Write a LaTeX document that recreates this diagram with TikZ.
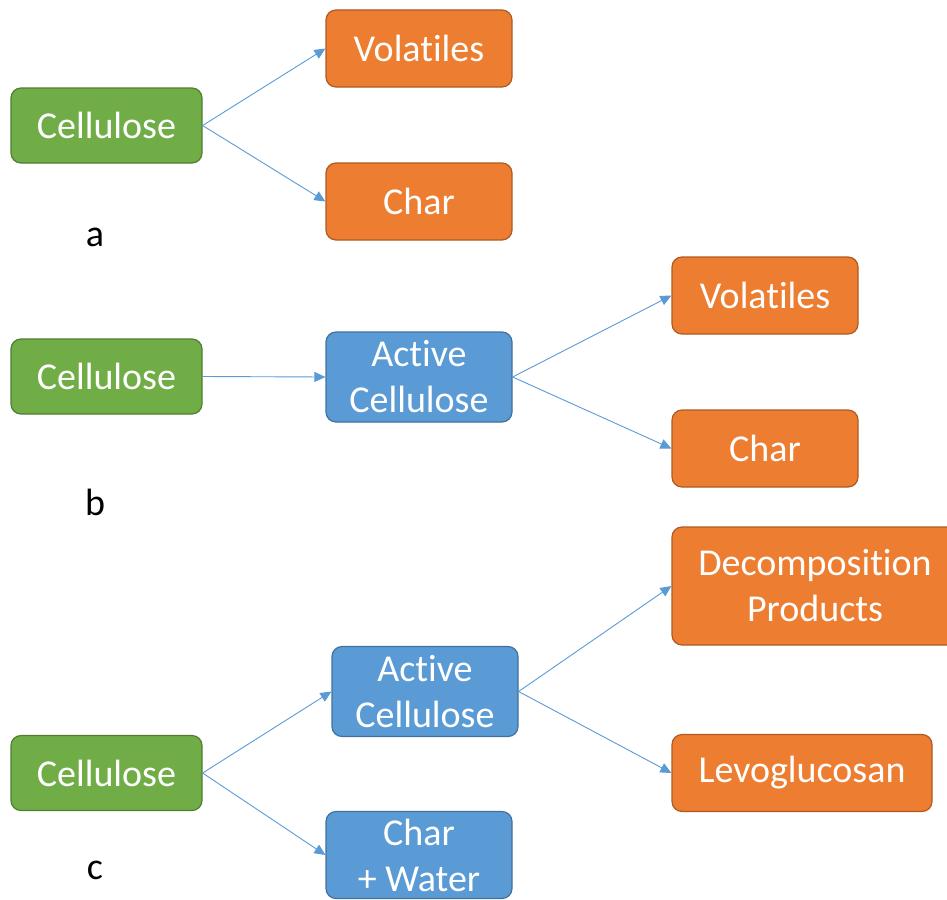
\documentclass[tikz,border=0pt]{standalone}
\usepackage{fontspec}
\setmainfont[Ligatures=NoCommon]{Carlito}
\usetikzlibrary{arrows.meta}
\definecolor{leafgreen}{HTML}{70AD47}
\definecolor{leafgreenline}{HTML}{507E32}
\definecolor{burntorange}{HTML}{ED7D31}
\definecolor{burntorangeline}{HTML}{AE5A21}
\definecolor{skyblue}{HTML}{5B9BD5}
\definecolor{skyblueline}{HTML}{41719C}
\begin{document}
\begin{tikzpicture}[x=1pt, y=-1pt,
  box/.style={rounded corners=10pt, line width=1.2pt, text=white,
    font=\fontsize{38}{46}\selectfont, align=center, inner sep=0pt,
    minimum width=186pt, minimum height=77pt},
  feed/.style={box, fill=leafgreen, draw=leafgreenline,
    minimum width=191pt, minimum height=75pt},
  product/.style={box, fill=burntorange, draw=burntorangeline},
  middle/.style={box, fill=skyblue, draw=skyblueline, minimum height=90pt},
  flow/.style={draw=skyblue, line width=0.9pt, -{Triangle[length=11pt,width=10pt]}},
  tag/.style={font=\fontsize{38}{46}\selectfont, text=black}]
  \clip (0, 0) rectangle (947, 899);
  % a
  \node [feed] (cellA) at (106.5, 125.5) {Cellulose};
  \node [product] (volA) at (419, 48.5) {Volatiles};
  \node [product] (charA) at (419, 201.5) {Char};
  \node [tag] (tagA) at (95, 237) {a};
  \draw [flow] (cellA.east) -- (volA.west);
  \draw [flow] (cellA.east) -- (charA.west);
  % b
  \node [feed] (cellB) at (106.5, 376.5) {Cellulose};
  \node [middle] (actB) at (419, 377) {Active\\Cellulose};
  \node [product] (volB) at (765, 295.5) {Volatiles};
  \node [product] (charB) at (765, 448.5) {Char};
  \node [tag] (tagB) at (95, 502) {b};
  \draw [flow] (cellB.east) -- (actB.west);
  \draw [flow] (actB.east) -- (volB.west);
  \draw [flow] (actB.east) -- (charB.west);
  % c
  \node [feed] (cellC) at (106.5, 773) {Cellulose};
  \node [middle] (actC) at (425, 691.5) {Active\\Cellulose};
  \node [middle, minimum height=87pt] (charC) at (419, 855) {Char\\+ Water};
  \node [product, minimum width=286pt, minimum height=118pt] (decoC) at (815, 586) {Decomposition\\Products};
  \node [product, minimum width=260pt] (levoC) at (802, 773) {Levoglucosan};
  \node [tag] (tagC) at (95, 870) {c};
  \draw [flow] (cellC.east) -- (actC.west);
  \draw [flow] (cellC.east) -- (charC.west);
  \draw [flow] (actC.east) -- (decoC.west);
  \draw [flow] (actC.east) -- (levoC.west);
\end{tikzpicture}
\end{document}
